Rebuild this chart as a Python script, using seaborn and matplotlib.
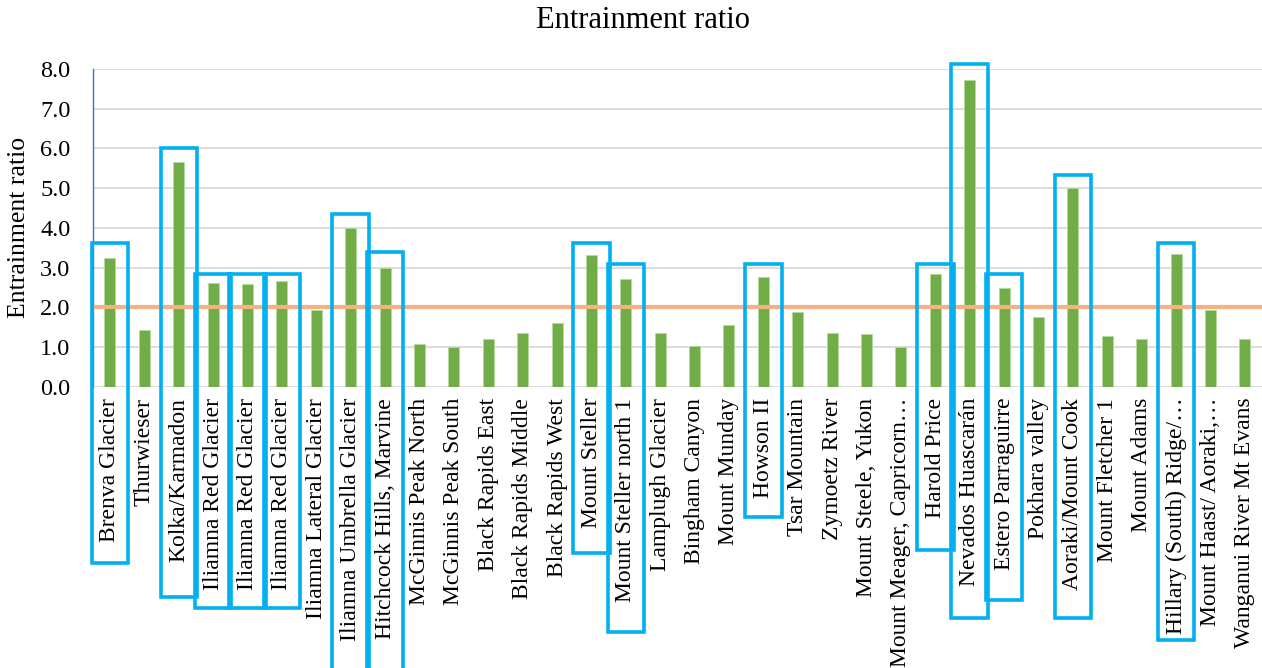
import pandas as pd
import seaborn as sns
import matplotlib.pyplot as plt
from matplotlib.patches import Rectangle

sns.set_theme(style="white")
plt.rcParams['font.family'] = ['Liberation Serif', 'DejaVu Serif']
plt.rcParams['text.color'] = 'black'
plt.rcParams['axes.labelcolor'] = 'black'
plt.rcParams['xtick.color'] = 'black'
plt.rcParams['ytick.color'] = 'black'

sites = ["Brenva Glacier", "Thurwieser", "Kolka/Karmadon", "Iliamna Red Glacier",
         "Iliamna Red Glacier", "Iliamna Red Glacier", "Iliamna Lateral Glacier",
         "Iliamna Umbrella Glacier", "Hitchcock Hills, Marvine", "McGinnis Peak North",
         "McGinnis Peak South", "Black Rapids East", "Black Rapids Middle",
         "Black Rapids West", "Mount Steller", "Mount Steller north 1", "Lamplugh Glacier",
         "Bingham Canyon", "Mount Munday", "Howson II", "Tsar Mountain", "Zymoetz River",
         "Mount Steele, Yukon", "Mount Meager, Capricorn…", "Harold Price",
         "Nevados Huascarán", "Estero Parraguirre", "Pokhara valley", "Aoraki/Mount Cook",
         "Mount Fletcher 1", "Mount Adams", "Hillary (South) Ridge/…",
         "Mount Haast/ Aoraki,…", "Wanganui River Mt Evans"]

ratio = [3.23, 1.43, 5.65, 2.60, 2.58, 2.66, 1.93, 3.99, 3.00, 1.08,
         1.00, 1.19, 1.34, 1.60, 3.32, 2.71, 1.34, 1.02, 1.55, 2.76,
         1.87, 1.35, 1.32, 1.00, 2.85, 7.73, 2.49, 1.75, 5.00, 1.27,
         1.19, 3.33, 1.93, 1.19]

threshold = 2.0

# highlighted sites: index -> (box top, box bottom) in axis units
highlight = {0: (3.63, -4.44), 2: (6.00, -5.30), 3: (2.83, -5.57), 4: (2.83, -5.57),
             5: (2.83, -5.57), 7: (4.34, -7.6), 8: (3.38, -7.6), 14: (3.63, -4.20),
             15: (3.08, -6.17), 19: (3.08, -3.27), 24: (3.08, -4.10), 25: (8.12, -5.82),
             26: (2.83, -5.37), 28: (5.34, -5.82), 31: (3.63, -6.38)}

df = pd.DataFrame({"pos": list(range(len(sites))), "ratio": ratio})

fig = plt.figure(figsize=(12.62, 6.68), dpi=100)
ax = fig.add_axes([0.0735, 0.4211, 0.9265, 0.4756])

sns.barplot(data=df, x="pos", y="ratio", color="#70AD47", saturation=1,
            width=0.32, edgecolor="#B5D99C", linewidth=0.6, ax=ax, zorder=2)

ax.axhline(threshold, color="#F4B183", lw=3, zorder=3)

ax.set_ylim(0, 8)
ax.set_xlim(-0.5, len(sites) - 0.5)
ax.set_yticks(range(0, 9))
ax.set_yticklabels([f"{v:.1f}" for v in range(0, 9)], fontsize=17.5)
ax.set_xticks(range(len(sites)))
ax.set_xticklabels(sites, rotation=90, fontsize=17)
ax.tick_params(axis="y", length=0, pad=16)
ax.tick_params(axis="x", length=0, pad=8)
ax.yaxis.grid(True, color="#D9D9D9", lw=1.3)
ax.set_axisbelow(True)
ax.set_xlabel("")
ax.set_ylabel("Entrainment ratio", fontsize=18.5, va="center")
ax.yaxis.set_label_coords(-0.0635, 0.5)

for side in ["top", "right", "bottom"]:
    ax.spines[side].set_visible(False)
ax.spines["left"].set_color("#4472C4")
ax.spines["left"].set_linewidth(1)

for i, (top, bottom) in highlight.items():
    ax.add_patch(Rectangle((i - 0.53, bottom), 1.06, top - bottom, fill=False,
                           edgecolor="#00B0F0", lw=2.6, clip_on=False, zorder=5))

fig.text(643 / 1262, 1 - 21 / 668, "Entrainment ratio", ha="center", va="center",
         fontsize=22)

plt.savefig("out.png", dpi=100)
